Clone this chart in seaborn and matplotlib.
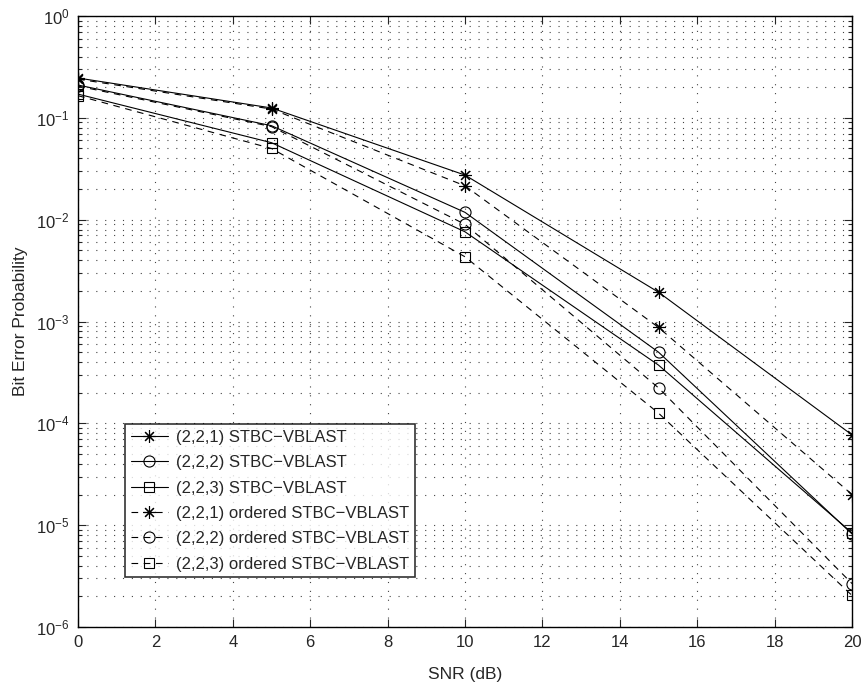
import numpy as np
import pandas as pd
import matplotlib
matplotlib.use("Agg")
import matplotlib.pyplot as plt
import seaborn as sns
from matplotlib.ticker import LogLocator, NullFormatter

snr = [0, 5, 10, 15, 20]
ber_221 = [0.246, 0.125, 0.0274, 0.00194, 7.7e-5]
ber_222 = [0.21, 0.0837, 0.0118, 5.0e-4, 8.2e-6]
ber_223 = [0.171, 0.057, 0.0076, 3.73e-4, 8.4e-6]
ber_221_ord = [0.240, 0.122, 0.0215, 8.75e-4, 2.0e-5]
ber_222_ord = [0.205, 0.082, 0.0090, 2.23e-4, 2.67e-6]
ber_223_ord = [0.165, 0.050, 0.00432, 1.26e-4, 2.04e-6]

labels = ["(2,2,1) STBC\u2212VBLAST", "(2,2,2) STBC\u2212VBLAST", "(2,2,3) STBC\u2212VBLAST",
          "(2,2,1) ordered STBC\u2212VBLAST", "(2,2,2) ordered STBC\u2212VBLAST",
          "(2,2,3) ordered STBC\u2212VBLAST"]
series = [ber_221, ber_222, ber_223, ber_221_ord, ber_222_ord, ber_223_ord]
markers = [(8, 2, 0), "o", "s", (8, 2, 0), "o", "s"]
msizes = [9, 8, 6.5, 9, 8, 6.5]
styles = ["-", "-", "-", (0, (6, 5)), (0, (6, 5)), (0, (6, 5))]

sns.set_style("ticks")
plt.rcParams["font.family"] = ["Liberation Sans", "DejaVu Sans"]
plt.rcParams["mathtext.fontset"] = "custom"
plt.rcParams["mathtext.rm"] = "Liberation Sans"

fig = plt.figure(figsize=(8.63, 6.93), dpi=100)
ax = fig.add_axes([78 / 863, 1 - 627 / 693, 774 / 863, 611 / 693])

for lab, vals, mk, ms, ls in zip(labels, series, markers, msizes, styles):
    df = pd.DataFrame({"SNR": snr, "BER": vals})
    sns.lineplot(data=df, x="SNR", y="BER", ax=ax, color="black", linewidth=0.8,
                 linestyle=ls, marker=mk, markersize=ms, markerfacecolor="none",
                 markeredgecolor="black", markeredgewidth=0.8, label=lab)

ax.set_yscale("log")
ax.set_xlim(0, 20)
ax.set_ylim(1e-6, 1)
ax.set_xticks(np.arange(0, 21, 2))
ax.yaxis.set_major_locator(LogLocator(base=10, numticks=10))
ax.yaxis.set_minor_locator(LogLocator(base=10, subs=np.arange(2, 10), numticks=100))
ax.yaxis.set_minor_formatter(NullFormatter())

grid_ls = (0, (1, 7))
ax.grid(True, which="major", linestyle=grid_ls, color="#444444", linewidth=0.8)
ax.grid(True, which="minor", axis="y", linestyle=grid_ls, color="#444444", linewidth=0.8)

ax.tick_params(which="both", direction="in", top=True, right=True, labelsize=12, width=0.8)
ax.tick_params(which="major", length=6, pad=6)
ax.tick_params(which="minor", length=3)
for sp in ax.spines.values():
    sp.set_linewidth(1.0)
    sp.set_color("black")

ax.set_xlabel("SNR (dB)", fontsize=12.5, labelpad=12)
ax.set_ylabel("Bit Error Probability", fontsize=12.5, labelpad=6)

leg = ax.legend(loc="upper left", bbox_to_anchor=(0.061, 0.332), borderaxespad=0,
                fontsize=12, frameon=True, fancybox=False, edgecolor="black",
                handlelength=2.2, handletextpad=0.5, labelspacing=0.62, borderpad=0.35)
leg.get_frame().set_linewidth(1.2)

fig.savefig("out.png", dpi=100)
